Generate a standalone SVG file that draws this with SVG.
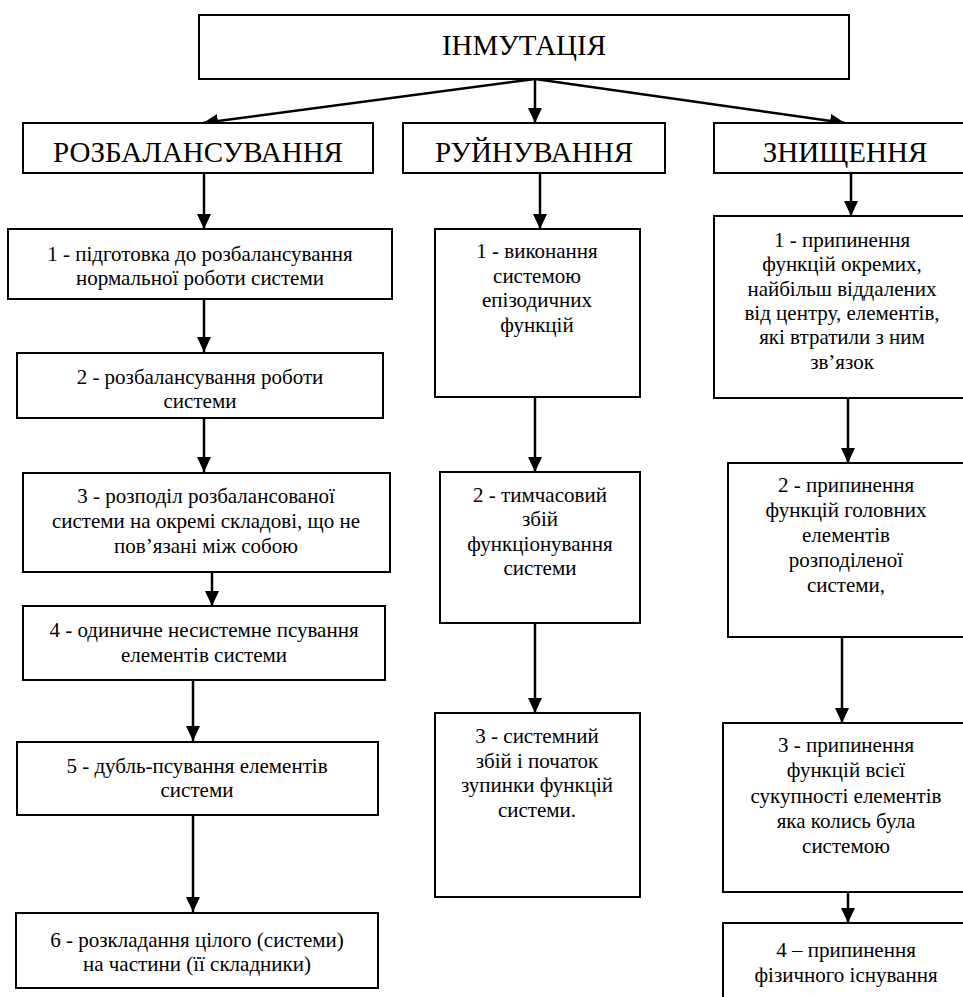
<svg xmlns="http://www.w3.org/2000/svg" width="963" height="997" viewBox="0 0 963 997">
<style>
.box{fill:#fff;stroke:#000;stroke-width:2}
text{font-family:'Liberation Serif','DejaVu Serif','Times New Roman',serif;text-anchor:middle;fill:#000}
.h{font-size:29px}
.t{font-size:21px}
.c{fill:none;stroke:#000;stroke-width:2.5;marker-end:url(#ah)}
</style>
<defs>
<marker id="ah" markerUnits="userSpaceOnUse" markerWidth="16" markerHeight="14" refX="15" refY="7" orient="auto">
<path d="M0,0 L15,7 L0,14 z" fill="#000"/>
</marker>
</defs>
<rect width="963" height="997" fill="#fff"/>
<g id="connectors">
<path class="c" d="M535,79 L203,123"/>
<path class="c" d="M535,79 L535,123"/>
<path class="c" d="M535,79 L845,123"/>
<path class="c" d="M204,173 L204,229"/>
<path class="c" d="M204,299 L204,352"/>
<path class="c" d="M204,418 L204,472"/>
<path class="c" d="M212,572 L212,606"/>
<path class="c" d="M193,680 L193,741"/>
<path class="c" d="M193,815 L193,912"/>
<path class="c" d="M540,173 L540,229"/>
<path class="c" d="M535,397 L535,472"/>
<path class="c" d="M535,623 L535,713"/>
<path class="c" d="M851,173 L851,216"/>
<path class="c" d="M848,398 L848,463"/>
<path class="c" d="M842,637 L842,723"/>
<path class="c" d="M848,892 L848,923"/>
</g>
<g id="n-root"><rect class="box" x="199" y="15" width="650" height="64"/><text class="h" x="524" y="55" font-family="Liberation Serif, serif">ІНМУТАЦІЯ</text></g>
<g id="n-rozb"><rect class="box" x="23" y="123" width="350" height="50"/><text class="h" x="198" y="162">РОЗБАЛАНСУВАННЯ</text></g>
<g id="n-ruin"><rect class="box" x="403" y="123" width="262" height="50"/><text class="h" x="534" y="162">РУЙНУВАННЯ</text></g>
<g id="n-znyshch"><rect class="box" x="714" y="123" width="260" height="50"/><text class="h" x="845" y="162">ЗНИЩЕННЯ</text></g>

<g id="n-l1"><rect class="box" x="8" y="229" width="384" height="70"/><text class="t" x="200" y="261">1 - підготовка до розбалансування</text><text class="t" x="200" y="285">нормальної роботи системи</text></g>
<g id="n-l2"><rect class="box" x="17" y="353" width="366" height="65"/><text class="t" x="200" y="384">2 - розбалансування роботи</text><text class="t" x="200" y="408">системи</text></g>
<g id="n-l3"><rect class="box" x="23" y="473" width="367" height="99"/><text class="t" x="206" y="503">3 - розподіл розбалансованої</text><text class="t" x="206" y="528">системи на окремі складові, що не</text><text class="t" x="206" y="553">пов’язані між собою</text></g>
<g id="n-l4"><rect class="box" x="23" y="606" width="362" height="74"/><text class="t" x="204" y="637">4 - одиничне несистемне псування</text><text class="t" x="204" y="662">елементів системи</text></g>
<g id="n-l5"><rect class="box" x="17" y="742" width="361" height="73"/><text class="t" x="197" y="773">5 - дубль-псування елементів</text><text class="t" x="197" y="797">системи</text></g>
<g id="n-l6"><rect class="box" x="16" y="913" width="362" height="75"/><text class="t" x="197" y="947">6 - розкладання цілого (системи)</text><text class="t" x="197" y="971">на частини (її складники)</text></g>

<g id="n-m1"><rect class="box" x="435" y="229" width="205" height="168"/><text class="t" x="537" y="258">1 - виконання</text><text class="t" x="537" y="283">системою</text><text class="t" x="537" y="307">епізодичних</text><text class="t" x="537" y="332">функцій</text></g>
<g id="n-m2"><rect class="box" x="440" y="472" width="200" height="151"/><text class="t" x="540" y="502">2 - тимчасовий</text><text class="t" x="540" y="526">збій</text><text class="t" x="540" y="551">функціонування</text><text class="t" x="540" y="575">системи</text></g>
<g id="n-m3"><rect class="box" x="435" y="713" width="205" height="184"/><text class="t" x="537" y="743">3 - системний</text><text class="t" x="537" y="768">збій і початок</text><text class="t" x="537" y="792">зупинки функцій</text><text class="t" x="537" y="817">системи.</text></g>

<g id="n-r1"><rect class="box" x="714" y="216" width="260" height="182"/><text class="t" x="842" y="247">1 - припинення</text><text class="t" x="842" y="271">функцій окремих,</text><text class="t" x="842" y="296">найбільш віддалених</text><text class="t" x="842" y="320">від центру, елементів,</text><text class="t" x="842" y="344">які втратили з ним</text><text class="t" x="842" y="369">зв’язок</text></g>
<g id="n-r2"><rect class="box" x="728" y="463" width="246" height="174"/><text class="t" x="846" y="492">2 - припинення</text><text class="t" x="846" y="517">функцій головних</text><text class="t" x="846" y="542">елементів</text><text class="t" x="846" y="567">розподіленої</text><text class="t" x="846" y="592">системи,</text></g>
<g id="n-r3"><rect class="box" x="723" y="723" width="251" height="169"/><text class="t" x="846" y="752">3 - припинення</text><text class="t" x="846" y="777">функцій всієї</text><text class="t" x="846" y="803">сукупності елементів</text><text class="t" x="846" y="828">яка колись була</text><text class="t" x="846" y="853">системою</text></g>
<g id="n-r4"><rect class="box" x="723" y="923" width="251" height="90"/><text class="t" x="846" y="957">4 – припинення</text><text class="t" x="846" y="982">фізичного існування</text></g>
</svg>
